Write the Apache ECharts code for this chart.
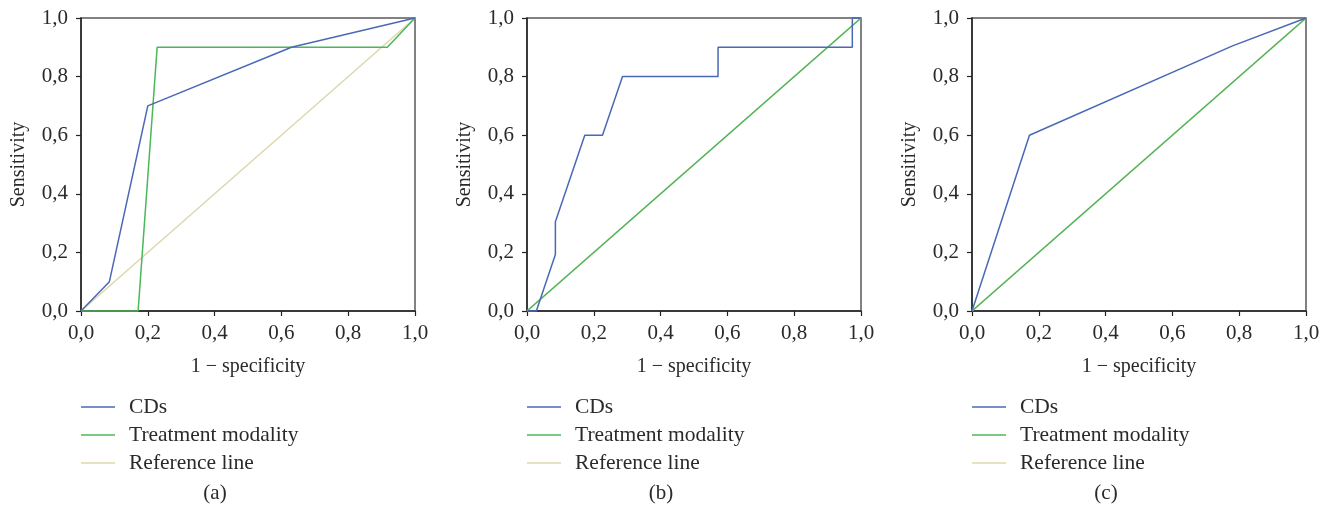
<!DOCTYPE html>
<html>
<head>
<meta charset="utf-8">
<script src="https://cdn.jsdelivr.net/npm/echarts@6/dist/echarts.min.js"></script>
<style>
html,body{margin:0;padding:0;background:#fff;}
#chart{width:1328px;height:506px;}
</style>
</head>
<body>
<div id="chart"></div>
<script>
// ---- data ----
const tickLabels = ['0,0', '0,2', '0,4', '0,6', '0,8', '1,0'];
const seriesNames = ['CDs', 'Treatment modality', 'Reference line'];
const panelLabels = ['(a)', '(b)', '(c)'];

// panel (a)
const aCDsX = [0, 0.085, 0.2, 0.63, 1];
const aCDsY = [0, 0.1, 0.7, 0.9, 1];
const aTreatX = [0, 0.171, 0.228, 0.917, 1];
const aTreatY = [0, 0, 0.9, 0.9, 1];
const aRefX = [0, 1];
const aRefY = [0, 1];

// panel (b)
const bCDsX = [0, 0.028, 0.085, 0.085, 0.173, 0.226, 0.286, 0.572, 0.572, 0.974, 0.974, 1];
const bCDsY = [0, 0, 0.193, 0.305, 0.6, 0.6, 0.8, 0.8, 0.9, 0.9, 1, 1];
const bTreatX = [0, 1];
const bTreatY = [0, 1];
const bRefX = [0, 1];
const bRefY = [0, 1];

// panel (c)
const cCDsX = [0, 0.172, 0.78, 1];
const cCDsY = [0, 0.6, 0.905, 1];
const cTreatX = [0, 1];
const cTreatY = [0, 1];
const cRefX = [0, 1];
const cRefY = [0, 1];

const colors = { 'CDs': '#4a68b8', 'Treatment modality': '#4cb65a', 'Reference line': '#ddd8ad' };
const FONT = "'Liberation Serif', 'DejaVu Serif', serif";
const TXT = '#2a2a2a';

function pairs(xs, ys) { return xs.map((x, i) => [x, ys[i]]); }

const panels = [
  { left: 81, legendLeft: 81, labelX: 215, data: [[aCDsX, aCDsY], [aTreatX, aTreatY], [aRefX, aRefY]] },
  { left: 527, legendLeft: 527, labelX: 661, data: [[bCDsX, bCDsY], [bTreatX, bTreatY], [bRefX, bRefY]] },
  { left: 972, legendLeft: 972, labelX: 1106, data: [[cCDsX, cCDsY], [cTreatX, cTreatY], [cRefX, cRefY]] }
];

const grids = [], xAxes = [], yAxes = [], series = [], legends = [], graphics = [];

function labelFmt(v) {
  const idx = Math.round(v / 0.2);
  return tickLabels[idx] !== undefined ? tickLabels[idx] : '';
}

panels.forEach((p, i) => {
  grids.push({
    left: p.left, top: 18, width: 334, height: 293,
    show: true, borderColor: '#5a5a5a', borderWidth: 1.5, backgroundColor: 'transparent'
  });
  xAxes.push({
    type: 'value', gridIndex: i, min: 0, max: 1, interval: 0.2,
    name: '1 − specificity', nameLocation: 'middle', nameGap: 46,
    nameTextStyle: { fontFamily: FONT, fontSize: 20, color: TXT },
    axisLine: { show: true, onZero: false, lineStyle: { color: '#222', width: 1.5 } },
    axisTick: { show: true, inside: false, length: 5, lineStyle: { color: '#222', width: 1.2 } },
    axisLabel: { formatter: labelFmt, fontFamily: FONT, fontSize: 21, color: TXT, margin: 12, showMaxLabel: true, showMinLabel: true },
    splitLine: { show: false }
  });
  yAxes.push({
    type: 'value', gridIndex: i, min: 0, max: 1, interval: 0.2,
    name: 'Sensitivity', nameLocation: 'middle', nameGap: 52,
    nameTextStyle: { fontFamily: FONT, fontSize: 20, color: TXT },
    axisLine: { show: true, onZero: false, lineStyle: { color: '#222', width: 1.5 } },
    axisTick: { show: true, inside: false, length: 5, lineStyle: { color: '#222', width: 1.2 } },
    axisLabel: { formatter: labelFmt, fontFamily: FONT, fontSize: 21, color: TXT, margin: 13, showMaxLabel: true, showMinLabel: true },
    splitLine: { show: false }
  });
  // draw reference first, then treatment, then CDs
  [2, 1, 0].forEach(k => {
    const name = seriesNames[k];
    series.push({
      type: 'line', name: name, xAxisIndex: i, yAxisIndex: i,
      data: pairs(p.data[k][0], p.data[k][1]),
      showSymbol: false, symbol: 'none', animation: false, clip: false,
      lineStyle: { color: colors[name], width: 1.5 },
      itemStyle: { color: colors[name] },
      z: 3 + (2 - k)
    });
  });
  legends.push({
    orient: 'vertical', left: p.legendLeft, top: 396, padding: 0,
    data: seriesNames.map(n => ({ name: n, icon: 'rect' })),
    itemWidth: 34, itemHeight: 1.5, itemGap: 6,
    selectedMode: false,
    textStyle: { fontFamily: FONT, fontSize: 21.5, color: TXT, padding: [0, 0, 0, 9], lineHeight: 21 }
  });
  graphics.push({
    type: 'text', x: p.labelX, y: 493,
    style: { text: panelLabels[i], fontFamily: FONT, fontSize: 21, fill: TXT, textAlign: 'center', textVerticalAlign: 'middle' }
  });
});

const chart = echarts.init(document.getElementById('chart'), null, { renderer: 'canvas' });
chart.setOption({
  animation: false,
  backgroundColor: '#fff',
  grid: grids,
  xAxis: xAxes,
  yAxis: yAxes,
  legend: legends,
  series: series,
  graphic: graphics
});
</script>
</body>
</html>
